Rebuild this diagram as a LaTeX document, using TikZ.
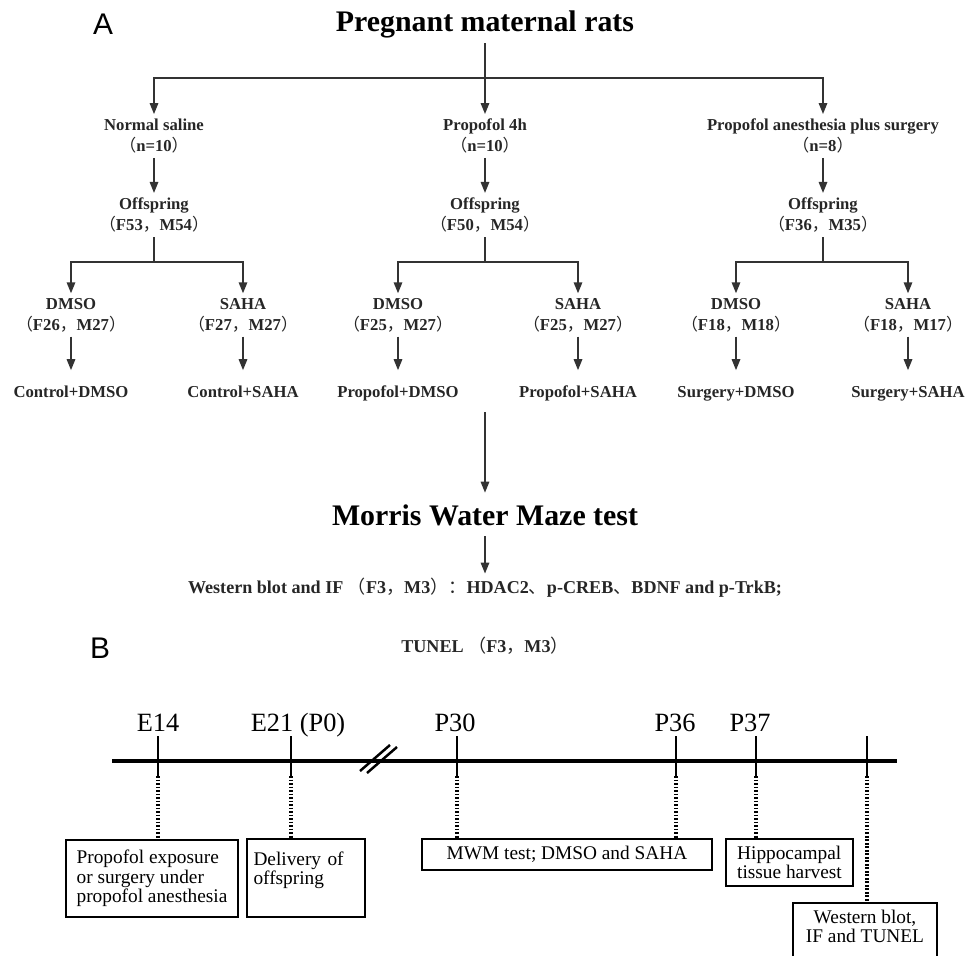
\documentclass[tikz,border=0pt]{standalone}
\usepackage{fontspec}
\setmainfont{Liberation Serif}
\setsansfont{Liberation Sans}
\newfontfamily\cjk{Noto Sans CJK SC}
\usetikzlibrary{arrows.meta}
\newcommand\flp{{\cjk\mdseries （}}
\newcommand\frp{{\cjk\mdseries ）}}
\newcommand\fcm{{\cjk\mdseries ，}}
\newcommand\fcol{{\cjk\mdseries ：}}
\newcommand\fdun{{\cjk\mdseries 、}}
\definecolor{lnc}{HTML}{333333}
\begin{document}
\begin{tikzpicture}[x=0.02cm,y=-0.02cm,
  panel/.style={font=\sffamily\fontsize{17}{20}\selectfont, inner sep=0pt},
  ttl/.style={font=\fontsize{17}{20}\selectfont\bfseries, inner sep=2.5pt, text=black},
  lab/.style={font=\fontsize{9.5}{12}\selectfont\bfseries, align=center, inner sep=2.5pt, text=black!85},
  fin/.style={lab, text height=0.7em, text depth=0.22em},
  wtxt/.style={font=\fontsize{10.3}{12}\selectfont\bfseries, inner sep=2.5pt, text=black!85},
  ln/.style={draw=lnc, line width=0.9pt},
  arr/.style={draw=lnc, line width=0.9pt, -{Triangle[length=0.22cm,width=0.17cm]}},
  tl/.style={draw=black, line width=2pt},
  tick/.style={draw=black, line width=1.4pt},
  dotl/.style={draw=black, line width=1.8pt, dash pattern=on 1pt off 1pt},
  tlab/.style={font=\fontsize{15}{17}\selectfont, inner sep=0pt, anchor=base},
  bx/.style={draw=black, line width=1.1pt, font=\fontsize{11}{11}\selectfont, inner sep=3pt}
]
\useasboundingbox (0,0) rectangle (977,956);

% ---------- Panel A ----------
\node[panel] (pa) at (103,24) {A};
\node[ttl, anchor=base] (root) at (485,32) {Pregnant maternal rats};
\coordinate (j0) at (485,78);

\node[lab] (ns) at (154,136) {Normal saline\\\flp n=10\frp};
\node[lab] (pf) at (485,136) {Propofol 4h\\\flp n=10\frp};
\node[lab] (ps) at (823,136) {Propofol anesthesia plus surgery\\\flp n=8\frp};

\draw[ln] (root.south) -- (j0);
\draw[arr] (j0) -| (ns.north);
\draw[arr] (j0) -- (pf.north);
\draw[arr] (j0) -| (ps.north);

\node[lab] (o1) at (154,215) {Offspring\\\flp F53\fcm M54\frp};
\node[lab] (o2) at (485,215) {Offspring\\\flp F50\fcm M54\frp};
\node[lab] (o3) at (823,215) {Offspring\\\flp F36\fcm M35\frp};

\draw[arr] (ns.south) -- (o1.north);
\draw[arr] (pf.south) -- (o2.north);
\draw[arr] (ps.south) -- (o3.north);

\coordinate (j1) at (154,262);
\coordinate (j2) at (485,262);
\coordinate (j3) at (823,262);

\node[lab] (d1) at (71,315) {DMSO\\\flp F26\fcm M27\frp};
\node[lab] (s1) at (243,315) {SAHA\\\flp F27\fcm M27\frp};
\node[lab] (d2) at (398,315) {DMSO\\\flp F25\fcm M27\frp};
\node[lab] (s2) at (578,315) {SAHA\\\flp F25\fcm M27\frp};
\node[lab] (d3) at (736,315) {DMSO\\\flp F18\fcm M18\frp};
\node[lab] (s3) at (908,315) {SAHA\\\flp F18\fcm M17\frp};

\draw[ln] (o1.south) -- (j1);
\draw[ln] (o2.south) -- (j2);
\draw[ln] (o3.south) -- (j3);
\draw[arr] (j1) -| (d1.north);
\draw[arr] (j1) -| (s1.north);
\draw[arr] (j2) -| (d2.north);
\draw[arr] (j2) -| (s2.north);
\draw[arr] (j3) -| (d3.north);
\draw[arr] (j3) -| (s3.north);

\node[fin] (f1) at (71,393) {Control+DMSO};
\node[fin] (f2) at (243,393) {Control+SAHA};
\node[fin] (f3) at (398,393) {Propofol+DMSO};
\node[fin] (f4) at (578,393) {Propofol+SAHA};
\node[fin] (f5) at (736,393) {Surgery+DMSO};
\node[fin] (f6) at (908,393) {Surgery+SAHA};

\foreach \a/\b in {d1/f1,s1/f2,d2/f3,s2/f4,d3/f5,s3/f6}
  \draw[arr, shorten >=0.2cm] (\a.south) -- (\b.north);

\coordinate (m0) at (485,412);
\node[ttl] (mwm) at (485,515) {Morris Water Maze test};
\draw[arr, shorten >=0.14cm] (m0) -- (mwm.north);

\node[wtxt] (wb) at (485,588) {Western blot and IF \flp F3\fcm M3\frp\fcol HDAC2\fdun p-CREB\fdun BDNF and p-TrkB;};
\draw[arr, shorten <=0.12cm] (mwm.south) -- (wb.north);
\node[wtxt] (tun) at (485,646) {TUNEL \flp F3\fcm M3\frp};

% ---------- Panel B ----------
\node[panel] (pb) at (100,648) {B};

\coordinate (tla) at (112,761);
\coordinate (tlb) at (897,761);
\draw[tl] (tla) -- (tlb);
\draw[draw=black, line width=1.4pt] (360,771) -- (390,745);
\draw[draw=black, line width=1.4pt] (367,773) -- (397,747);

\node[tlab] (e14) at (158,731) {E14};
\node[tlab] (e21) at (298,731) {E21 (P0)};
\node[tlab] (p30) at (455,731) {P30};
\node[tlab] (p36) at (675,731) {P36};
\node[tlab] (p37) at (750,731) {P37};

\foreach \x/\n in {158/t1,291/t2,457/t3,676/t4,756/t5,867/t6}{
  \draw[tick] (\x,736) -- (\x,776);
  \coordinate (\n) at (\x,776);
}

\node[bx, minimum width=3.44cm, minimum height=1.54cm, align=left] (b1) at (152,878.5) {Propofol exposure\\or surgery under\\propofol anesthesia};
\node[bx, minimum width=2.36cm, minimum height=1.56cm, align=left, text width=2.1cm] (b2) at (306,878) {Delivery of\\offspring\\\mbox{}};
\node[bx, minimum width=5.8cm, minimum height=0.62cm] (b3) at (567,854.5) {MWM test; DMSO and SAHA};
\node[bx, minimum width=2.54cm, minimum height=0.94cm, align=left] (b4) at (789.5,862.5) {Hippocampal\\tissue harvest};
\node[bx, minimum width=2.88cm, anchor=north, align=center, inner ysep=4pt] (b5) at (865,902) {Western blot,\\IF and TUNEL\\\mbox{}\\\mbox{}};

\draw[dotl] (t1) -- (b1.north -| t1);
\draw[dotl] (t2) -- (b2.north -| t2);
\draw[dotl] (t3) -- (b3.north -| t3);
\draw[dotl] (t4) -- (b3.north -| t4);
\draw[dotl] (t5) -- (b4.north -| t5);
\draw[dotl] (t6) -- (b5.north -| t6);
\end{tikzpicture}
\end{document}
